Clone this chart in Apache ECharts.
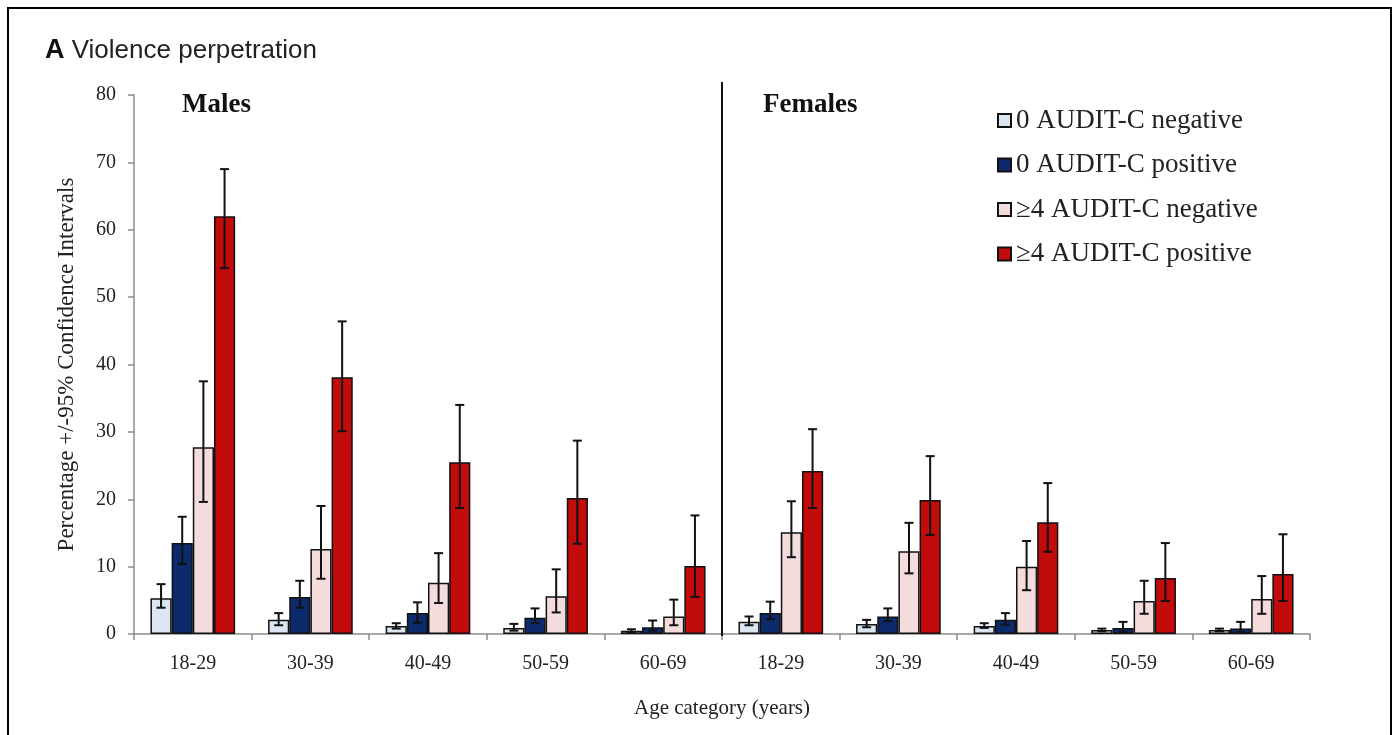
<!DOCTYPE html>
<html>
<head>
<meta charset="utf-8">
<script src="https://cdn.jsdelivr.net/npm/echarts@6/dist/echarts.min.js"></script>
<style>
html,body{margin:0;padding:0;background:#fff;}
#chart{width:1395px;height:735px;}
</style>
</head>
<body>
<div id="chart"></div>
<script>
// ---- data ----
var categories = ['18-29','30-39','40-49','50-59','60-69','18-29','30-39','40-49','50-59','60-69'];
var seriesNames = ['0 AUDIT-C negative','0 AUDIT-C positive','\u22654 AUDIT-C negative','\u22654 AUDIT-C positive'];
var yTicks = [0,10,20,30,40,50,60,70,80];

var neg0   = [5.3, 2.1, 1.2, 0.9, 0.5, 1.8, 1.5, 1.2, 0.6, 0.6];
var neg0Lo = [3.9, 1.3, 0.8, 0.5, 0.3, 1.3, 1.0, 0.9, 0.4, 0.4];
var neg0Hi = [7.4, 3.1, 1.6, 1.5, 0.7, 2.6, 2.1, 1.6, 0.8, 0.8];

var pos0   = [13.5, 5.5, 3.1, 2.4, 1.0, 3.1, 2.6, 2.1, 0.9, 0.8];
var pos0Lo = [10.4, 3.9, 1.7, 1.6, 0.5, 2.2, 1.9, 1.4, 0.3, 0.3];
var pos0Hi = [17.4, 7.9, 4.7, 3.8, 2.0, 4.8, 3.8, 3.1, 1.8, 1.8];

var neg4   = [27.7, 12.6, 7.6, 5.6, 2.6, 15.1, 12.3, 10.0, 4.9, 5.2];
var neg4Lo = [19.6, 8.2, 4.6, 3.2, 1.3, 11.4, 9.0, 6.5, 3.0, 3.0];
var neg4Hi = [37.5, 19.0, 12.0, 9.6, 5.1, 19.7, 16.5, 13.8, 7.9, 8.6];

var pos4   = [62.0, 38.1, 25.5, 20.2, 10.1, 24.2, 19.9, 16.6, 8.3, 8.9];
var pos4Lo = [54.3, 30.1, 18.7, 13.4, 5.5, 18.7, 14.7, 12.2, 4.9, 4.9];
var pos4Hi = [69.0, 46.4, 34.0, 28.7, 17.6, 30.4, 26.4, 22.4, 13.5, 14.8];

var panelLabels = ['Males','Females'];
var dividerAfter = [4];

// ---- build ----
var values = [neg0, pos0, neg4, pos4];
var lows = [neg0Lo, pos0Lo, neg4Lo, pos4Lo];
var highs = [neg0Hi, pos0Hi, neg4Hi, pos4Hi];
var colors = ['#dce6f2','#0c2a6c','#f4dcdc','#c20b0b'];
var CAT_GAP = 0.28;
var SERIF = '"Liberation Serif", "Times New Roman", serif';
var SANS = '"Liberation Sans", Arial, sans-serif';

var errData = [];
for (var s = 0; s < 4; s++) {
  for (var i = 0; i < categories.length; i++) {
    errData.push([i, s, lows[s][i], highs[s][i]]);
  }
}

var series = [];
for (var s2 = 0; s2 < 4; s2++) {
  series.push({
    name: seriesNames[s2],
    type: 'bar',
    data: values[s2],
    barGap: '0%',
    barCategoryGap: (CAT_GAP*100) + '%',
    itemStyle: {color: colors[s2], borderColor: '#111', borderWidth: 1.5},
    emphasis: {disabled: true}
  });
}
series.push({
  type: 'custom',
  name: 'err',
  data: errData,
  encode: {x: 0, y: [2, 3]},
  z: 10,
  silent: true,
  renderItem: function (params, api) {
    var idx = api.value(0), sIdx = api.value(1);
    var lo = api.coord([idx, api.value(2)]);
    var hi = api.coord([idx, api.value(3)]);
    var band = api.size([1, 0])[0];
    var bw = band * (1 - CAT_GAP) / 4;
    var x = lo[0] + (sIdx - 1.5) * bw;
    var cap = 4.5;
    var st = {stroke: '#111', lineWidth: 2};
    return {type: 'group', children: [
      {type: 'line', shape: {x1: x, y1: lo[1], x2: x, y2: hi[1]}, style: st},
      {type: 'line', shape: {x1: x - cap, y1: lo[1], x2: x + cap, y2: lo[1]}, style: st},
      {type: 'line', shape: {x1: x - cap, y1: hi[1], x2: x + cap, y2: hi[1]}, style: st}
    ]};
  }
});
series.push({
  type: 'custom',
  name: 'divider',
  data: dividerAfter.map(function (d) { return [d, 0]; }),
  z: 9,
  silent: true,
  renderItem: function (params, api) {
    var idx = api.value(0);
    var p0 = api.coord([idx, 0]);
    var p1 = api.coord([idx, yTicks[yTicks.length - 1]]);
    var band = api.size([1, 0])[0];
    var x = p0[0] + band / 2;
    return {type: 'line', shape: {x1: x, y1: p1[1] - 13, x2: x, y2: p0[1] + 2}, style: {stroke: '#111', lineWidth: 2}};
  }
});

var chart = echarts.init(document.getElementById('chart'), null, {renderer: 'canvas'});
chart.setOption({
  animation: false,
  backgroundColor: '#fff',
  title: {
    text: '{b|A}{n| Violence perpetration}',
    left: 40, top: 32,
    textStyle: {
      fontWeight: 'normal',
      rich: {
        b: {fontFamily: SANS, fontWeight: 'bold', fontSize: 27, color: '#111'},
        n: {fontFamily: SANS, fontWeight: 'normal', fontSize: 26, color: '#222'}
      }
    }
  },
  legend: {
    data: seriesNames,
    orient: 'vertical',
    left: 992, top: 102,
    itemWidth: 13, itemHeight: 13,
    itemGap: 17.5,
    icon: 'rect',
    selectedMode: false,
    textStyle: {fontFamily: SERIF, fontSize: 27, lineHeight: 26, color: '#222', padding: [0, 0, 0, 0]}
  },
  grid: {left: 134, right: 85, top: 95, bottom: 101, containLabel: false},
  xAxis: {
    type: 'category',
    data: categories,
    name: 'Age category (years)',
    nameLocation: 'middle',
    nameGap: 64,
    nameTextStyle: {fontFamily: SERIF, fontSize: 21, color: '#222'},
    axisLine: {lineStyle: {color: '#8c8c8c', width: 1.5}},
    axisTick: {show: true, interval: 0, length: 6, lineStyle: {color: '#8c8c8c', width: 1.5}},
    axisLabel: {fontFamily: SERIF, fontSize: 20, color: '#222', margin: 20, interval: 0},
    splitLine: {show: false}
  },
  yAxis: {
    type: 'value',
    min: yTicks[0], max: yTicks[yTicks.length - 1], interval: yTicks[1] - yTicks[0],
    name: 'Percentage +/-95% Confidence Intervals',
    nameLocation: 'middle',
    nameGap: 56,
    nameTextStyle: {fontFamily: SERIF, fontSize: 23, color: '#222'},
    axisLine: {show: true, lineStyle: {color: '#8c8c8c', width: 1.5}},
    axisTick: {show: true, length: 6, lineStyle: {color: '#8c8c8c', width: 1.5}},
    axisLabel: {fontFamily: SERIF, fontSize: 20, color: '#222', margin: 18},
    splitLine: {show: false}
  },
  graphic: [
    {type: 'rect', shape: {x: 8, y: 8, width: 1383, height: 760}, style: {fill: 'none', stroke: '#000', lineWidth: 2}, silent: true, z: 100},
    {type: 'text', left: 182, top: 92, style: {text: panelLabels[0], font: 'bold 27px ' + SERIF, fill: '#111'}},
    {type: 'text', left: 763, top: 92, style: {text: panelLabels[1], font: 'bold 27px ' + SERIF, fill: '#111'}}
  ],
  series: series
});
</script>
</body>
</html>
